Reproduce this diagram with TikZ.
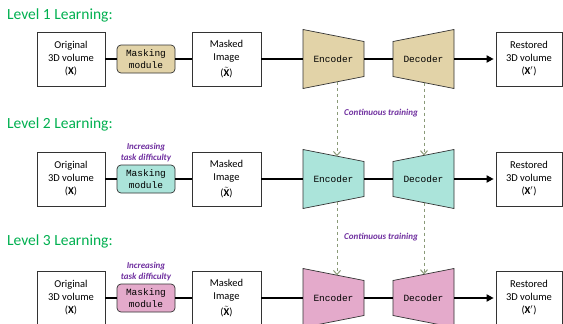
\documentclass[tikz,border=0pt]{standalone}
\usepackage{fontspec}
\setmainfont{Carlito}
\setmonofont{Liberation Mono}
\usetikzlibrary{arrows.meta, positioning, calc}
\definecolor{lvlgreen}{HTML}{00B050}
\definecolor{hintpurple}{HTML}{7030A0}
\definecolor{trainline}{HTML}{8A9A78}
\definecolor{tantone}{HTML}{E2D3A8}
\definecolor{tealtone}{HTML}{ABE4DA}
\definecolor{pinktone}{HTML}{E4AACB}

\begin{document}
\begin{tikzpicture}[x=1pt, y=-1pt,
   font=\fontsize{10.5}{13}\selectfont,
   title/.style={anchor=west, text=lvlgreen, inner sep=0pt,
                 font=\fontsize{15.5}{18}\selectfont},
   vol/.style={rectangle, draw=black!80, line width=0.7pt, fill=white,
               align=center, minimum width=68pt, minimum height=54pt, inner sep=1pt},
   maskmod/.style={rectangle, rounded corners=4pt, draw=black!80, line width=0.7pt,
                   align=center, minimum width=58pt, minimum height=28pt, inner sep=1pt,
                   font=\ttfamily\fontsize{9.5}{12}\selectfont},
   coder/.style={rectangle, minimum width=61pt, minimum height=59pt, inner sep=0pt,
                 font=\ttfamily\fontsize{9.5}{11}\selectfont},
   hint/.style={text=hintpurple, align=center, inner sep=0pt,
                font=\bfseries\itshape\fontsize{9}{11}\selectfont},
   flow/.style={line width=2pt},
   train/.style={trainline, dashed, line width=1pt,
                 -{Straight Barb[length=4pt, width=7pt]}}]
 \clip (0,0) rectangle (563,324);
 \fill[white] (0,0) rectangle (563,324);
 % one row per learning level
 \foreach \r/\yc/\yt/\tone in {1/59/15/tantone, 2/179/124/tealtone, 3/298/241/pinktone} {
   \node[title] (lvl\r) at (7,\yt) {Level \r{} Learning:};
   \filldraw[fill=\tone, draw=black!80, line width=0.7pt]
     (303,\yc-29.5) -- (364,\yc-17.5) -- (364,\yc+17.5) -- (303,\yc+29.5) -- cycle;
   \filldraw[fill=\tone, draw=black!80, line width=0.7pt]
     (393,\yc-17.5) -- (454,\yc-29.5) -- (454,\yc+29.5) -- (393,\yc+17.5) -- cycle;
   \node[vol] (orig\r) at (71,\yc) {Original\\3D volume\\($\mathbf{X}$)};
   \node[maskmod, fill=\tone] (mask\r) at (146,\yc) {Masking\\module};
   \node[vol, minimum width=69pt] (mskd\r) at (226.5,\yc) {Masked\\Image\\[3pt]($\tilde{\mathbf{X}}$)};
   \node[coder] (enc\r) at (333.5,\yc) {Encoder};
   \node[coder] (dec\r) at (423.5,\yc) {Decoder};
   \node[vol, minimum width=66pt] (rest\r) at (529,\yc) {Restored\\3D volume\\($\mathbf{X}'$)};
   \coordinate (enc\r-top) at (337,\yc-22.8);
   \coordinate (enc\r-bot) at (337,\yc+22.8);
   \coordinate (dec\r-top) at (424,\yc-23.6);
   \coordinate (dec\r-bot) at (424,\yc+23.6);
   \draw[flow] (orig\r) -- (mask\r);
   \draw[flow] (mask\r) -- (mskd\r);
   \draw[flow] (mskd\r) -- (enc\r);
   \draw[flow] (enc\r) -- (dec\r);
   \draw[flow, -{Triangle[length=7pt, width=7pt]}, shorten >=2pt] (dec\r) -- (rest\r);
   \ifnum\r>1
     \node[hint, above=3pt of mask\r] (diff\r) {Increasing\\task difficulty};
   \fi
 }
 % continuous training between levels
 \draw[train] (enc1-bot) -- (enc2-top);
 \draw[train] (dec1-bot) -- (dec2-top);
 \draw[train] (enc2-bot) -- (enc3-top);
 \draw[train] (dec2-bot) -- (dec3-top);
 \node[hint] (ct12) at (381,113) {Continuous training};
 \node[hint] (ct23) at (381,237) {Continuous training};
\end{tikzpicture}
\end{document}
